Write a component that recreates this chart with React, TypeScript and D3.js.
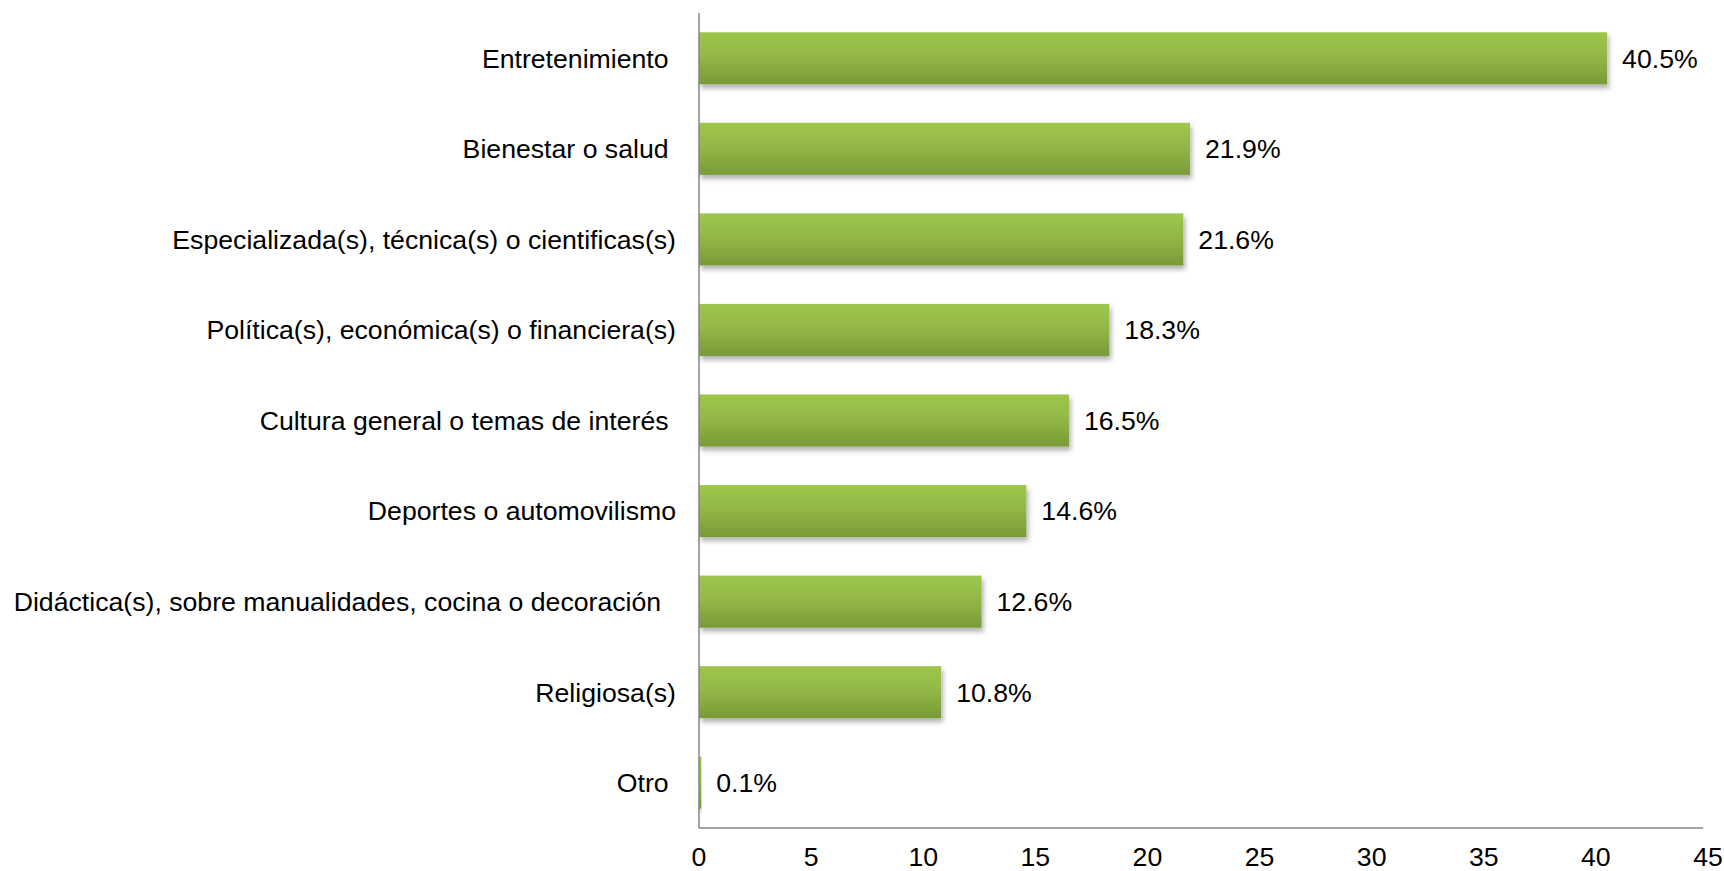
import { useEffect, useRef } from "react";
import * as d3 from "d3";

// categorias (los espacios finales vienen del original)
const categorias = [
  "Entretenimiento ",
  "Bienestar o salud ",
  "Especializada(s), técnica(s) o cientificas(s)",
  "Política(s), económica(s) o financiera(s)",
  "Cultura general o temas de interés ",
  "Deportes o automovilismo",
  "Didáctica(s), sobre manualidades, cocina o decoración  ",
  "Religiosa(s)",
  "Otro ",
];
const valores = [40.5, 21.9, 21.6, 18.3, 16.5, 14.6, 12.6, 10.8, 0.1];
const ticks = [0, 5, 10, 15, 20, 25, 30, 35, 40, 45];

function App() {
  const canvas = useRef<SVGSVGElement>(null);

  useEffect(() => {
    const width = 1724;
    const height = 871;
    const left = 699;
    const right = 1708;
    const top = 13;
    const bottom = 828;
    const font = "Liberation Sans, Arial, sans-serif";
    const fsize = 26.67;

    const svg = d3.select(canvas.current).attr("width", width).attr("height", height);
    svg.selectAll("*").remove();

    const defs = svg.append("defs");
    const grad = defs
      .append("linearGradient")
      .attr("id", "verde")
      .attr("x1", 0)
      .attr("y1", 0)
      .attr("x2", 0)
      .attr("y2", 1);
    grad.append("stop").attr("offset", "0%").attr("stop-color", "#9ec64c");
    grad.append("stop").attr("offset", "45%").attr("stop-color", "#93b846");
    grad.append("stop").attr("offset", "100%").attr("stop-color", "#789a38");

    const filt = defs
      .append("filter")
      .attr("id", "sombra")
      .attr("x", "-10%")
      .attr("y", "-20%")
      .attr("width", "130%")
      .attr("height", "160%");
    filt
      .append("feDropShadow")
      .attr("dx", 2)
      .attr("dy", 4)
      .attr("stdDeviation", 2.5)
      .attr("flood-color", "#000")
      .attr("flood-opacity", 0.3);

    const x = d3.scaleLinear().domain([0, 45]).range([left, right]);
    const y = d3
      .scaleBand()
      .domain(categorias)
      .range([top, bottom])
      .paddingInner(0.425)
      .paddingOuter(0.2125);

    const datos = categorias.map((c, i) => ({ name: c, value: valores[i] }));

    // barras
    svg
      .selectAll(".bar")
      .data(datos)
      .join("rect")
      .attr("class", "bar")
      .attr("x", x(0))
      .attr("y", (d) => y(d.name)!)
      .attr("width", (d) => x(d.value) - x(0))
      .attr("height", y.bandwidth())
      .attr("fill", "url(#verde)")
      .attr("filter", "url(#sombra)");

    // etiquetas de valor
    svg
      .selectAll(".valor")
      .data(datos)
      .join("text")
      .attr("class", "valor")
      .attr("x", (d) => x(d.value) + 15)
      .attr("y", (d) => y(d.name)! + y.bandwidth() / 2)
      .attr("dy", "0.35em")
      .attr("font-family", font)
      .attr("font-size", fsize)
      .attr("fill", "#000")
      .text((d) => d.value.toFixed(1) + "%");

    // etiquetas de categoria
    svg
      .selectAll(".cat")
      .data(datos)
      .join("text")
      .attr("class", "cat")
      .attr("x", 676)
      .attr("y", (d) => y(d.name)! + y.bandwidth() / 2)
      .attr("dy", "0.35em")
      .attr("text-anchor", "end")
      .attr("font-family", font)
      .attr("font-size", fsize)
      .attr("fill", "#000")
      .style("white-space", "pre")
      .text((d) => d.name);

    // ejes
    svg
      .append("line")
      .attr("x1", left)
      .attr("x2", left)
      .attr("y1", top)
      .attr("y2", bottom)
      .attr("stroke", "#868686")
      .attr("stroke-width", 1.5);
    svg
      .append("line")
      .attr("x1", left)
      .attr("x2", 1703)
      .attr("y1", bottom)
      .attr("y2", bottom)
      .attr("stroke", "#868686")
      .attr("stroke-width", 1.5);

    svg
      .selectAll(".tick")
      .data(ticks)
      .join("text")
      .attr("class", "tick")
      .attr("x", (d) => x(d))
      .attr("y", 866)
      .attr("text-anchor", "middle")
      .attr("font-family", font)
      .attr("font-size", fsize)
      .attr("fill", "#000")
      .text((d) => d);
  }, []);

  return (
    <div style={{ position: "absolute", top: 0, left: 0 }}>
      <svg ref={canvas} style={{ display: "block" }} />
    </div>
  );
}

export default App;
